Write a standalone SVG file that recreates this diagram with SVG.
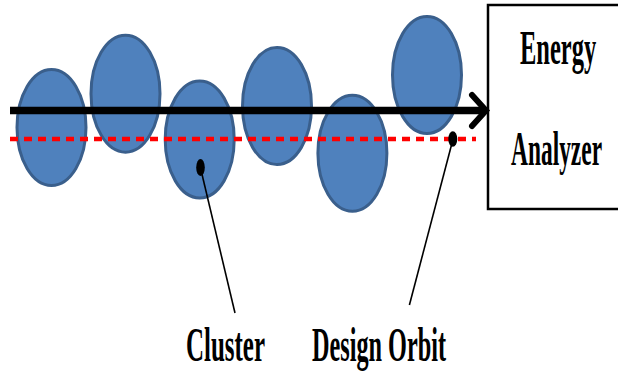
<svg xmlns="http://www.w3.org/2000/svg" width="618" height="375" viewBox="0 0 618 375">
<style>
.bunch{fill:#4F81BD;stroke:#3A5F8C;stroke-width:3}
.lbl{font-family:"Liberation Serif","Times New Roman",serif;font-weight:bold;font-size:48px;fill:#000}
.lead{stroke:#000;stroke-width:1.6;fill:none}
.dot{fill:#000}
</style>
<rect width="618" height="375" fill="#fff"/>
<g id="cluster1"><ellipse class="bunch" cx="51.5" cy="127.5" rx="34.5" ry="58"/></g>
<g id="cluster2"><ellipse class="bunch" cx="125.5" cy="93.7" rx="34.5" ry="58.5"/></g>
<g id="cluster3"><ellipse class="bunch" cx="199.7" cy="139.5" rx="34.5" ry="58.5"/></g>
<g id="cluster4"><ellipse class="bunch" cx="277" cy="106" rx="34.5" ry="58.5"/></g>
<g id="cluster5"><ellipse class="bunch" cx="352.4" cy="153.3" rx="34.5" ry="58"/></g>
<g id="cluster6"><ellipse class="bunch" cx="427" cy="75" rx="34.5" ry="58.5"/></g>
<g id="analyzer">
<rect x="488" y="5" width="135" height="204" fill="#fff" stroke="#000" stroke-width="2.5"/>
<text class="lbl" transform="translate(520,63.5) scale(0.51,1)">Energy</text>
<text class="lbl" transform="translate(511,165) scale(0.488,1)">Analyzer</text>
</g>
<g id="connectors">
<line x1="10" y1="110.5" x2="484" y2="110.5" stroke="#000" stroke-width="7.5"/>
<polyline points="472,95 486,110.5 472,126" fill="none" stroke="#000" stroke-width="6" stroke-linecap="round" stroke-linejoin="miter"/>
<line x1="10" y1="139" x2="476" y2="139" stroke="#FF0000" stroke-width="4.5" stroke-dasharray="8,6"/>
<line class="lead" x1="200.5" y1="168" x2="235" y2="313"/>
<line class="lead" x1="452.8" y1="140" x2="409.4" y2="305"/>
<ellipse class="dot" cx="200.5" cy="167.5" rx="4.3" ry="8.5"/>
<ellipse class="dot" cx="452.8" cy="139" rx="4.5" ry="7.8"/>
</g>
<g id="labels">
<text class="lbl" transform="translate(186,361) scale(0.52,1)">Cluster</text>
<text class="lbl" transform="translate(312,361) scale(0.505,1)">Design Orbit</text>
</g>
</svg>
